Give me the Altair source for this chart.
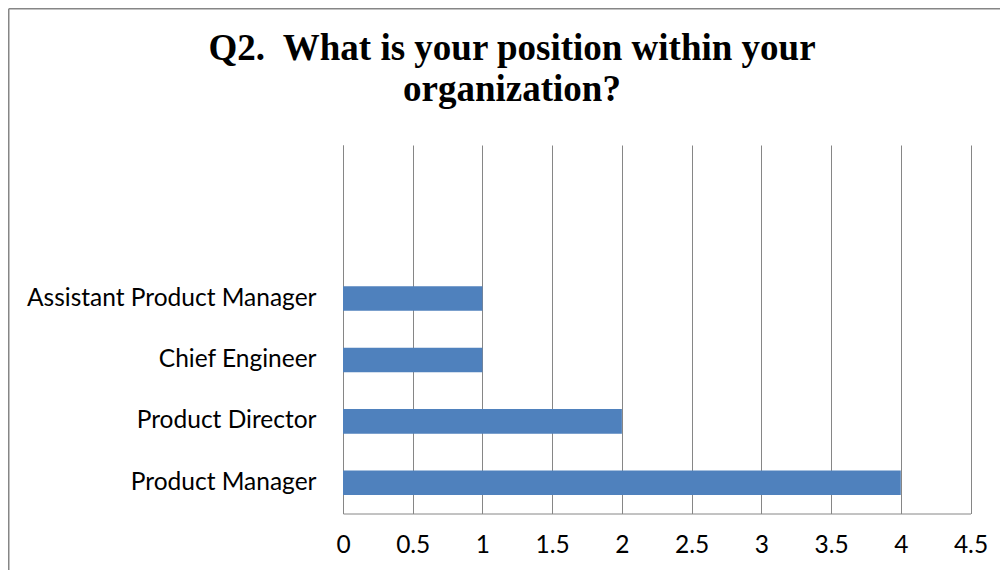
import altair as alt
import pandas as pd

categories = ["Product Manager", "Product Director", "Chief Engineer", "Assistant Product Manager"]
counts = [4, 2, 1, 1]
x_ticks = [0, 0.5, 1, 1.5, 2, 2.5, 3, 3.5, 4, 4.5]
title_lines = ["Q2.\u00a0 What is your position within your", "organization?"]

# empty slots at top of the category axis (as in the original chart)
y_domain = ["pad1", "pad2"] + categories[::-1]

df = pd.DataFrame({"position": categories, "count": counts})
one = pd.DataFrame({"k": [0]})

PW, PH = 627.5, 368.5
PAD_L, PAD_T = 335, 137
TOTAL_W, TOTAL_H = 992, 562

bars = alt.Chart(df).mark_bar(color="#4F81BD").encode(
    x=alt.X("count:Q",
            scale=alt.Scale(domain=[0, 4.5], nice=False, zero=True),
            axis=alt.Axis(values=x_ticks, format="~g", title=None, grid=True, gridColor="#868686",
                          gridWidth=1, domainColor="#868686", domainWidth=1, ticks=False,
                          labelFont="Lato", labelFontSize=24.5, labelColor="#000000",
                          labelPadding=20, labelFlush=False)),
    y=alt.Y("position:N",
            scale=alt.Scale(domain=y_domain, paddingInner=0.6, paddingOuter=0.3),
            axis=alt.Axis(title=None, ticks=False, grid=False, domainColor="#868686", domainWidth=1,
                          labelFont="Lato", labelFontSize=24.5, labelColor="#000000",
                          labelPadding=27, labelLimit=400,
                          labelExpr="indexof(datum.label, 'pad') == 0 ? '' : datum.label")),
)

frame_left = alt.Chart(one).mark_rule(color="#868686", strokeWidth=1.5).encode(
    x=alt.value(-PAD_L + 0.75), y=alt.value(-PAD_T + 0.75), y2=alt.value(TOTAL_H - PAD_T))
frame_top = alt.Chart(one).mark_rule(color="#868686", strokeWidth=1.5).encode(
    x=alt.value(-PAD_L + 0.75), x2=alt.value(TOTAL_W - PAD_L), y=alt.value(-PAD_T + 0.75))

title_marks = []
for i, line in enumerate(title_lines):
    title_marks.append(
        alt.Chart(one).mark_text(font="Liberation Serif", fontSize=37, fontWeight="bold",
                                 color="#000000", align="center", baseline="alphabetic").encode(
            x=alt.value(169), y=alt.value(-85.5 + 41 * i), text=alt.value(line))
    )

chart = alt.layer(bars, frame_left, frame_top, *title_marks).properties(
    width=PW, height=PH,
    background="white",
    autosize=alt.AutoSizeParams(type="none"),
    padding={"left": PAD_L, "top": PAD_T, "right": TOTAL_W - PAD_L - PW,
             "bottom": TOTAL_H - PAD_T - PH},
).configure_view(strokeWidth=0, stroke="transparent")

chart.save("out.html", embed_options={"renderer": "svg", "actions": False})
